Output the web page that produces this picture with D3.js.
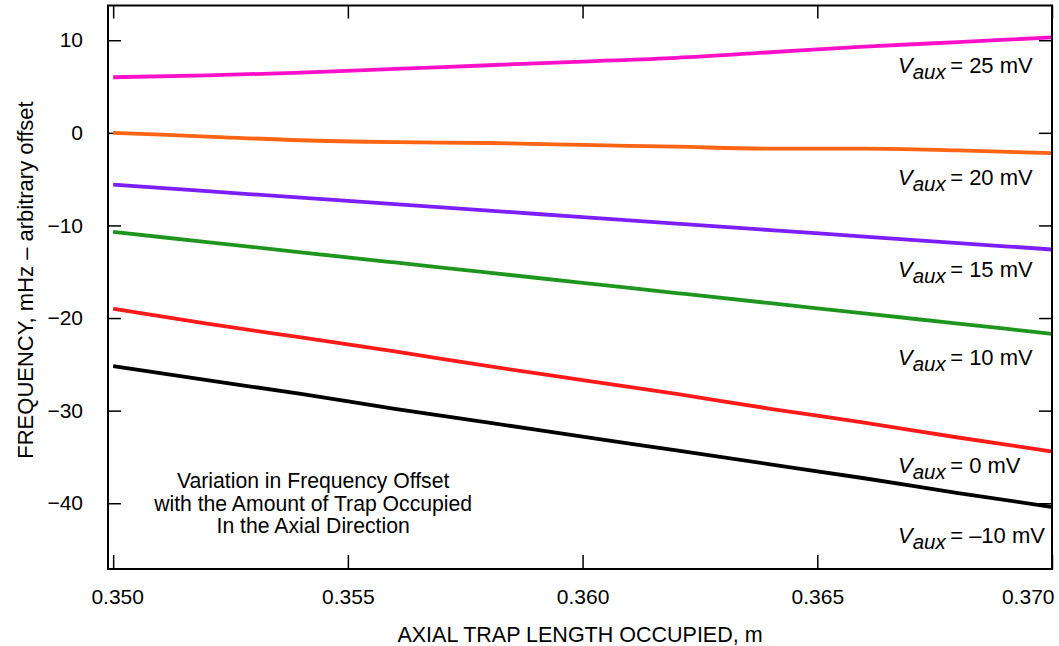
<!DOCTYPE html>
<html>
<head>
<meta charset="utf-8">
<script src="https://cdn.jsdelivr.net/npm/d3@7"></script>
<style>
  body { margin: 0; background: #fff; }
  svg { font-family: "Liberation Sans", Arial, Helvetica, sans-serif; }
</style>
</head>
<body>
<svg></svg>
<script>
const width = 1059;
const height = 646;
const svg = d3.select('svg').attr('width', width).attr('height', height);

// data
const trapLength = [0.350, 0.352, 0.354, 0.356, 0.358, 0.360, 0.362, 0.364, 0.366, 0.368, 0.370];
const vaux25 = [6.0, 6.2, 6.5, 6.9, 7.3, 7.7, 8.1, 8.7, 9.3, 9.8, 10.3];
const vaux20 = [0.0, -0.4, -0.8, -1.0, -1.1, -1.3, -1.5, -1.7, -1.7, -1.9, -2.2];
const vaux15 = [-5.6, -6.3, -7.0, -7.7, -8.4, -9.1, -9.8, -10.5, -11.2, -11.9, -12.6];
const vaux10 = [-10.7, -11.8, -12.9, -14.0, -15.1, -16.2, -17.3, -18.4, -19.5, -20.6, -21.7];
const vaux0 = [-19.0, -20.6, -22.1, -23.6, -25.2, -26.7, -28.2, -29.8, -31.3, -32.9, -34.4];
const vauxM10 = [-25.2, -26.7, -28.2, -29.8, -31.3, -32.8, -34.3, -35.8, -37.3, -38.9, -40.4];

const seriesNames = ['25', '20', '15', '10', '0', '\u201310'];
const seriesValues = [vaux25, vaux20, vaux15, vaux10, vaux0, vauxM10];
const seriesColors = ['#ff10c8', '#ff6414', '#7d1eff', '#1e961e', '#ff1a1a', '#000000'];
// label anchor: y value of each label baseline
const labelY = [6.44, -5.63, -15.53, -25.06, -36.7, -44.25];
const labelX = 0.36672;

const xTicks = [0.350, 0.355, 0.360, 0.365, 0.370];
const yTicks = [-40, -30, -20, -10, 0, 10];

const note = ['Variation in Frequency Offset', 'with the Amount of Trap Occupied', 'In the Axial Direction'];

//Scales
const xScale = d3.scaleLinear().domain([0.34989, 0.370]).range([108, 1052]);
const yScale = d3.scaleLinear().domain([-47.1, 13.75]).range([569, 5.5]);

const [x0, x1] = xScale.range();
const [y0, y1] = yScale.range();

//Axes (ticks inside the frame, on all four sides)
const fmtX = d3.format('.3f');
svg.append('g').attr('transform', `translate(0, ${y0})`)
   .call(d3.axisBottom(xScale).tickValues(xTicks).tickSize(-14).tickPadding(20).tickFormat(fmtX))
   .call(g => g.select('.domain').remove())
   .call(g => g.selectAll('.tick text').attr('text-anchor', (d, i) => i === xTicks.length - 1 ? 'end' : 'middle')
                                        .attr('dx', (d, i) => i === xTicks.length - 1 ? 2 : (i === 0 ? 4 : 0)));
svg.append('g').attr('transform', `translate(0, ${y1})`)
   .call(d3.axisTop(xScale).tickValues(xTicks).tickSize(-13).tickFormat(''))
   .call(g => g.select('.domain').remove());
svg.append('g').attr('transform', `translate(${x0}, 0)`)
   .call(d3.axisLeft(yScale).tickValues(yTicks).tickSize(-13).tickPadding(25))
   .call(g => g.select('.domain').remove());
svg.append('g').attr('transform', `translate(${x1}, 0)`)
   .call(d3.axisRight(yScale).tickValues(yTicks).tickSize(-13).tickFormat(''))
   .call(g => g.select('.domain').remove());

svg.selectAll('.tick line').attr('stroke', '#000').attr('stroke-width', 1.5);
svg.selectAll('.tick text').attr('fill', '#000').style('font-size', '21px')
   .style('font-family', '"Liberation Sans", Arial, sans-serif');

//Lines
const line = d3.line()
               .x((d, i) => xScale(trapLength[i]))
               .y(d => yScale(d))
               .curve(d3.curveMonotoneX);

svg.append('g').selectAll('path')
   .data(seriesValues)
   .enter()
   .append('path')
     .attr('d', line)
     .attr('fill', 'none')
     .attr('stroke', (d, i) => seriesColors[i])
     .attr('stroke-width', 3.8)
     .attr('stroke-linecap', 'butt');

//Frame
svg.append('rect')
   .attr('x', x0).attr('y', y1)
   .attr('width', x1 - x0).attr('height', y0 - y1)
   .attr('fill', 'none').attr('stroke', '#000').attr('stroke-width', 2);

//Series labels
const labels = svg.append('g').selectAll('text')
   .data(seriesNames)
   .enter()
   .append('text')
     .attr('x', xScale(labelX))
     .attr('y', (d, i) => yScale(labelY[i]))
     .style('font-size', '22px');
labels.append('tspan').style('font-style', 'italic').text('V');
labels.append('tspan').style('font-style', 'italic').style('font-size', '20.5px')
      .attr('dy', 6).text('aux');
labels.append('tspan').attr('dy', -6).text(d => `\u2009= ${d} mV`);

//Note
svg.append('text')
   .attr('x', xScale(0.35426))
   .attr('y', yScale(-38.4))
   .style('text-anchor', 'middle')
   .style('font-size', '21.2px')
   .selectAll('tspan')
   .data(note)
   .enter()
   .append('tspan')
     .attr('x', xScale(0.35426))
     .attr('dy', (d, i) => i === 0 ? 0 : 22.5)
     .text(d => d);

//Axis titles
svg.append('text')
   .attr('x', 580)
   .attr('y', 641.5)
   .style('text-anchor', 'middle')
   .style('font-size', '21.5px')
   .text('AXIAL TRAP LENGTH OCCUPIED, m');

svg.append('text')
   .attr('transform', 'rotate(-90)')
   .attr('x', -280)
   .attr('y', 33)
   .style('text-anchor', 'middle')
   .style('font-size', '22px')
   .text('FREQUENCY, mHz \u2013 arbitrary offset');
</script>
</body>
</html>
